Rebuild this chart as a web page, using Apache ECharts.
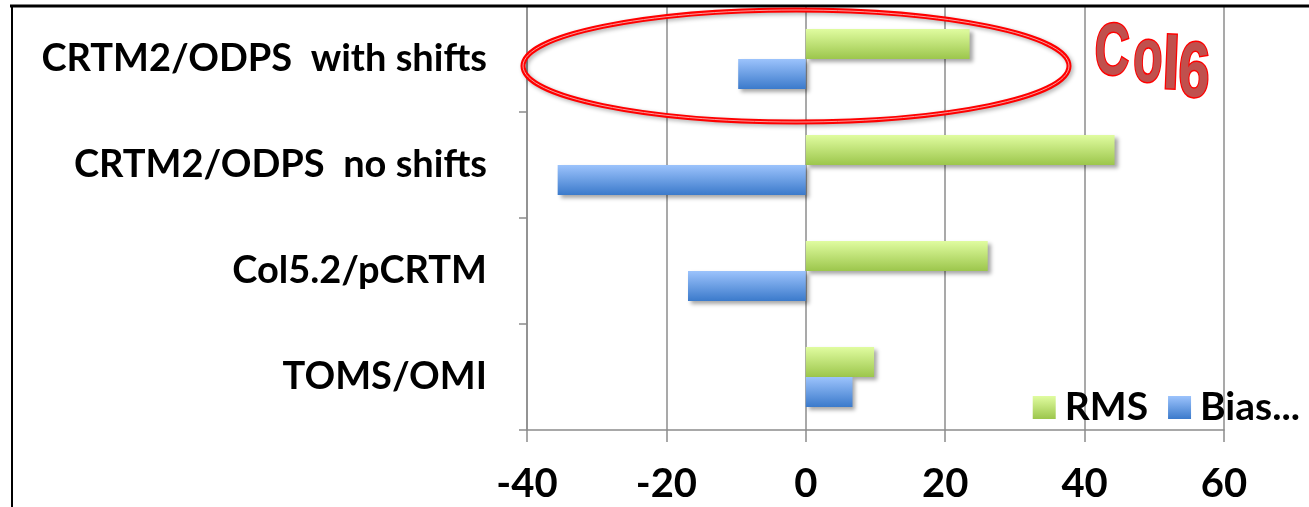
<!DOCTYPE html>
<html><head><meta charset="utf-8">
<script src="https://cdn.jsdelivr.net/npm/echarts@6/dist/echarts.min.js"></script>
<style>html,body{margin:0;padding:0;background:#fff}#c{width:1309px;height:507px}</style>
</head><body><div id="c"></div>
<script>
const categories = ['TOMS/OMI', 'Col5.2/pCRTM', 'CRTM2/ODPS  no shifts', 'CRTM2/ODPS  with shifts'];
const rmsValues = [9.8, 26.1, 44.3, 23.5];
const biasValues = [6.7, -16.9, -35.6, -9.7];
const xTicks = [-40, -20, 0, 20, 40, 60];
const seriesNames = ['RMS', 'Bias...'];

const FONT = 'Lato';
const chart = echarts.init(document.getElementById('c'), null, {renderer: 'canvas'});
const grad = (a, b) => new echarts.graphic.LinearGradient(0, 0, 0, 1, [{offset: 0, color: a}, {offset: 1, color: b}]);
const shadow = {shadowColor: 'rgba(0,0,0,0.35)', shadowBlur: 4, shadowOffsetX: 3, shadowOffsetY: 3};

// "Col6" WordArt annotation, drawn letter by letter
const col6Letters = [
  {ch: 'C', x: 1112, y: 54, size: 73, sx: 0.66},
  {ch: 'o', x: 1148, y: 60, size: 77, sx: 0.62},
  {ch: 'l', x: 1171, y: 68, size: 74, sx: 0.85},
  {ch: '6', x: 1194, y: 75, size: 78, sx: 0.72}
];
const col6 = col6Letters.map(l => ({
  type: 'text', x: l.x, y: l.y, scaleX: l.sx, rotation: -0.04, z: 100,
  style: {text: l.ch, font: 'bold ' + l.size + 'px "Liberation Sans", Arial, sans-serif',
          fill: '#c0504d', stroke: '#ff0000', lineWidth: 3, align: 'center', verticalAlign: 'middle',
          shadowColor: 'rgba(0,0,0,0.3)', shadowBlur: 4, shadowOffsetX: 2, shadowOffsetY: 2}
}));

chart.setOption({
  animation: false,
  grid: {left: 527, right: 85, top: 6, bottom: 77},
  legend: {
    data: seriesNames,
    right: 4, top: 383,
    itemWidth: 23, itemHeight: 23, itemGap: 20,
    icon: 'rect',
    textStyle: {fontFamily: FONT, fontWeight: 'bold', fontSize: 39, color: '#000', padding: [0, 0, 0, 4]}
  },
  xAxis: {
    type: 'value', min: xTicks[0], max: xTicks[xTicks.length - 1], interval: 20,
    axisLine: {show: true, onZero: false, lineStyle: {color: '#8c8c8c', width: 1.5}},
    axisTick: {show: true, length: 12, lineStyle: {color: '#8c8c8c', width: 1.5}},
    splitLine: {show: true, lineStyle: {color: '#8c8c8c', width: 1.5}},
    axisLabel: {fontFamily: FONT, fontWeight: 'bold', fontSize: 40, color: '#000', margin: 34}
  },
  yAxis: [{
    type: 'category', data: categories, position: 'left',
    axisLine: {show: false}, axisTick: {show: false},
    axisLabel: {fontFamily: FONT, fontWeight: 'bold', fontSize: 38, color: '#000', margin: 40}
  }, {
    type: 'category', data: categories, position: 'left',
    axisLine: {show: true, onZero: true, lineStyle: {color: '#8c8c8c', width: 1.5}},
    axisTick: {show: true, length: 8, lineStyle: {color: '#8c8c8c', width: 1.5}},
    axisLabel: {show: false}
  }],
  series: [{
    name: seriesNames[0], type: 'bar', data: rmsValues, barWidth: 30, barGap: '0%',
    itemStyle: Object.assign({color: grad('#e0fca0', '#9cc64c')}, shadow)
  }, {
    name: seriesNames[1], type: 'bar', data: biasValues, barWidth: 30, barGap: '0%',
    itemStyle: Object.assign({color: grad('#9cc3fc', '#3b7acb')}, shadow)
  }],
  graphic: [
    {type: 'line', shape: {x1: 10, y1: 6, x2: 1309, y2: 6}, style: {stroke: '#000', lineWidth: 3}, z: 100},
    {type: 'line', shape: {x1: 12, y1: 5, x2: 12, y2: 507}, style: {stroke: '#000', lineWidth: 2}, z: 100},
    {type: 'ellipse', shape: {cx: 796, cy: 66, rx: 273, ry: 56},
     style: {fill: 'none', stroke: '#ff0000', lineWidth: 5, shadowColor: 'rgba(0,0,0,0.3)', shadowBlur: 4, shadowOffsetX: 2, shadowOffsetY: 2}, z: 100},
    {type: 'ellipse', shape: {cx: 796, cy: 66, rx: 273, ry: 56},
     style: {fill: 'none', stroke: '#f6a0a0', lineWidth: 1}, z: 101}
  ].concat(col6)
});
</script></body></html>
